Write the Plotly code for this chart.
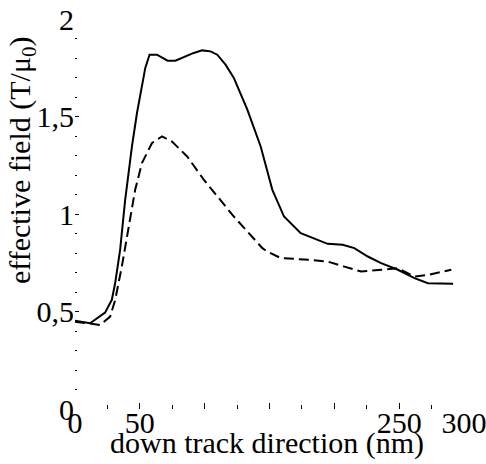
import plotly.graph_objects as go

# Solid curve
x_solid = [0, 11.6, 23.2, 28.4, 31, 34.8, 38.7, 43.9, 47.8, 54.2, 57.5, 63.2, 71.4, 77.4,
           91.6, 98.1, 104.5, 109.7, 116.1, 122.5, 132.9, 143.2, 152.2, 161.2, 174.1,
           194.8, 206.4, 215.4, 225.8, 236.1, 249, 261.8, 272.2, 282.5, 291.6]
y_solid = [0.453, 0.44, 0.494, 0.56, 0.647, 0.816, 1.073, 1.346, 1.518, 1.749, 1.817, 1.817,
           1.786, 1.786, 1.826, 1.839, 1.834, 1.817, 1.766, 1.698, 1.535, 1.346, 1.124,
           0.987, 0.902, 0.847, 0.842, 0.825, 0.782, 0.748, 0.714, 0.671, 0.645, 0.645, 0.642]

# Dashed curve
x_dashed = [0, 19.3, 27.1, 31, 36.1, 42.6, 46.4, 51.6, 59.4, 67.1, 74.8, 86.5, 99.3, 122.5,
            144.5, 148.4, 158.7, 181.9, 194.8, 207.7, 220.6, 236.1, 249, 261.8, 272.2, 290.2]
y_dashed = [0.448, 0.431, 0.474, 0.56, 0.73, 0.987, 1.124, 1.261, 1.364, 1.398, 1.372, 1.295,
            1.176, 0.987, 0.825, 0.807, 0.774, 0.765, 0.756, 0.73, 0.705, 0.714, 0.722,
            0.679, 0.688, 0.714]

x_tickvals = [0, 50, 100, 150, 200, 250, 300]
x_ticktext = ["0", "50", "", "", "", "250", "300"]
y_tickvals = [0, 0.5, 1, 1.5, 2]
y_ticktext = ["0", "0,5", "1", "1,5", "2"]

FONT = "Liberation Serif"
FS = 30

fig = go.Figure()
fig.add_trace(go.Scatter(x=x_solid, y=y_solid, mode="lines",
                         line=dict(color="black", width=2), showlegend=False))
fig.add_trace(go.Scatter(x=x_dashed, y=y_dashed, mode="lines",
                         line=dict(color="black", width=2, dash="10px,5px"), showlegend=False))

fig.update_layout(
    width=486, height=464,
    margin=dict(l=75, r=22, t=19, b=55),
    plot_bgcolor="white", paper_bgcolor="white",
    font=dict(family=FONT, size=FS, color="black"),
    xaxis=dict(range=[0, 300], showgrid=False, zeroline=False, showline=False,
               automargin=False, ticklabelstandoff=-7, ticklabeloverflow="allow",
               tickmode="array", tickvals=x_tickvals, ticktext=x_ticktext,
               ticks="inside", ticklen=6, tickwidth=1, tickcolor="black",
               minor=dict(dtick=25, ticks="inside", ticklen=4, tickwidth=1, tickcolor="black"),
               tickfont=dict(family=FONT, size=FS)),
    yaxis=dict(range=[0, 2], showgrid=False, zeroline=False, showline=False,
               automargin=False, ticklabeloverflow="allow",
               tickmode="array", tickvals=y_tickvals, ticktext=y_ticktext,
               ticks="inside", ticklen=4, tickwidth=1, tickcolor="black",
               minor=dict(dtick=0.1, ticks="inside", ticklen=2, tickwidth=1, tickcolor="black"),
               tickfont=dict(family=FONT, size=FS)),
    annotations=[
        dict(text="down track direction (nm)", xref="paper", yref="paper",
             x=0.494, y=-0.087, xanchor="center", yanchor="middle", showarrow=False,
             font=dict(family=FONT, size=FS)),
        dict(text="effective field (T/μ<sub>0</sub>)", xref="paper", yref="paper",
             x=-0.138, y=0.639, xanchor="center", yanchor="middle", showarrow=False,
             textangle=-90, font=dict(family=FONT, size=FS)),
    ],
)

# remove the default page margin so the figure fills the window exactly
fig.write_html("out.html", config={"displayModeBar": False},
               post_script="document.body.style.margin='0';document.body.style.overflow='hidden';")
